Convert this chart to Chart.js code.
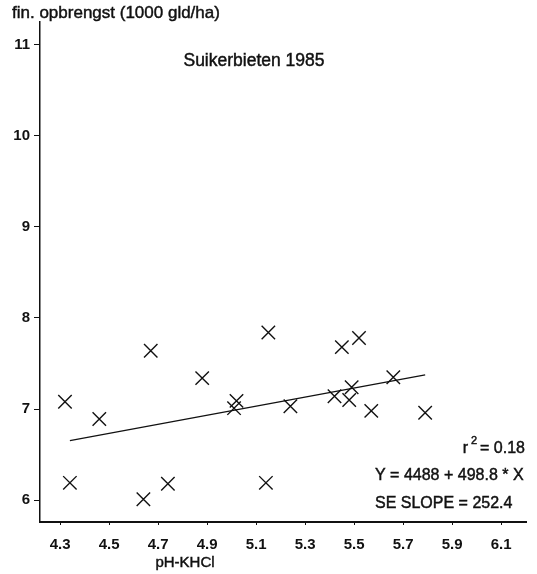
<!DOCTYPE html>
<html>
<head>
<meta charset="utf-8">
<script src="https://cdn.jsdelivr.net/npm/chart.js@4/dist/chart.umd.min.js"></script>
<style>
  html, body { margin: 0; padding: 0; background: #fff; }
  #wrap { width: 537px; height: 574px; position: relative; }
</style>
</head>
<body>
<div id="wrap"><canvas id="c" width="537" height="574"></canvas></div>
<script>
// pH-KHCl per field and financial yield (1000 gld/ha), sugar beet 1985
const phValues = [4.32, 4.34, 4.46, 4.67, 4.64, 4.74, 4.88, 5.02, 5.01, 5.15,
                  5.14, 5.24, 5.42, 5.45, 5.52, 5.48, 5.49, 5.57, 5.66, 5.79];
const yieldValues = [7.08, 6.19, 6.89, 7.64, 6.01, 6.18, 7.34, 7.09, 7.01, 7.84,
                     6.19, 7.03, 7.14, 7.68, 7.78, 7.10, 7.24, 6.98, 7.35, 6.96];

// Fitted regression Y = 4488 + 498.8 * X (gld/ha), drawn over the observed pH range
const intercept = 4488;
const slope = 498.8;
const fitRange = [4.34, 5.79];

const xTicks = [4.3, 4.5, 4.7, 4.9, 5.1, 5.3, 5.5, 5.7, 5.9, 6.1];
const yTicks = [6, 7, 8, 9, 10, 11];

const statLines = ['Y = 4488 + 498.8 * X', 'SE SLOPE = 252.4'];
const rSquared = '0.18';

const scatterPts = phValues.map((x, i) => ({ x: x, y: yieldValues[i] }));
const fitPts = fitRange.map(x => ({ x: x, y: (intercept + slope * x) / 1000 }));

const FONT = '"Liberation Sans", Arial, Helvetica, sans-serif';

// text drawn with a faint outline so it carries the same weight as the axes
function heavyText(ctx, text, x, y) {
  ctx.fillText(text, x, y);
  ctx.strokeText(text, x, y);
}

const textPlugin = {
  id: 'texts',
  afterDraw(chart) {
    const ctx = chart.ctx;
    ctx.save();
    ctx.fillStyle = '#111';
    ctx.strokeStyle = '#111';
    ctx.lineWidth = 0.45;
    ctx.textBaseline = 'alphabetic';
    // axis titles
    ctx.font = '17px ' + FONT;
    ctx.textAlign = 'left';
    heavyText(ctx, 'fin. opbrengst (1000 gld/ha)', 12, 18);
    ctx.textAlign = 'center';
    ctx.font = '15px ' + FONT;
    heavyText(ctx, 'pH-KHCl', 185, 567);
    // chart heading
    ctx.font = '17.5px ' + FONT;
    heavyText(ctx, 'Suikerbieten 1985', 254, 66);
    // regression statistics
    ctx.textAlign = 'right';
    ctx.font = '16px ' + FONT;
    const rText = '= ' + rSquared;
    heavyText(ctx, rText, 525, 453);
    const rw = ctx.measureText(rText).width;
    heavyText(ctx, 'r', 525 - rw - 12, 453);
    ctx.font = '11px ' + FONT;
    heavyText(ctx, '2', 525 - rw - 3, 444);
    ctx.font = '16px ' + FONT;
    ctx.textAlign = 'left';
    heavyText(ctx, statLines[0], 375, 480);
    heavyText(ctx, statLines[1], 375, 508);
    ctx.restore();
  }
};

new Chart(document.getElementById('c'), {
  type: 'scatter',
  data: {
    datasets: [
      {
        data: scatterPts,
        pointStyle: 'crossRot',
        pointRadius: 9.5,
        pointHoverRadius: 9.5,
        borderColor: '#111',
        borderWidth: 1.4,
        showLine: false
      },
      {
        type: 'line',
        data: fitPts,
        borderColor: '#111',
        borderWidth: 1.2,
        pointRadius: 0,
        fill: false,
        tension: 0
      }
    ]
  },
  options: {
    responsive: false,
    animation: false,
    events: [],
    layout: { padding: { top: 22, right: 10, left: 0, bottom: 0 } },
    plugins: { legend: { display: false }, tooltip: { enabled: false } },
    scales: {
      x: {
        type: 'linear',
        min: 4.218,
        max: 6.202,
        afterBuildTicks(s) { s.ticks = xTicks.map(v => ({ value: v })); },
        afterFit(s) { s.height = 52; },
        grid: { drawOnChartArea: false, drawTicks: true, tickLength: 3, color: '#111' },
        border: { display: true, color: '#111', width: 2 },
        ticks: {
          color: '#111',
          padding: 11,
          maxRotation: 0,
          autoSkip: false,
          font: { family: FONT, size: 15, weight: 'bold' },
          callback: v => v.toFixed(1)
        }
      },
      y: {
        type: 'linear',
        min: 5.76,
        max: 11.25,
        afterBuildTicks(s) { s.ticks = yTicks.map(v => ({ value: v })); },
        afterFit(s) { s.width = 40; },
        grid: { drawOnChartArea: false, drawTicks: true, tickLength: 6, color: '#111' },
        border: { display: true, color: '#111', width: 1.5 },
        ticks: {
          color: '#111',
          padding: 4,
          font: { family: FONT, size: 15, weight: 'bold' },
          callback: v => String(v)
        }
      }
    }
  },
  plugins: [textPlugin]
});
</script>
</body>
</html>
